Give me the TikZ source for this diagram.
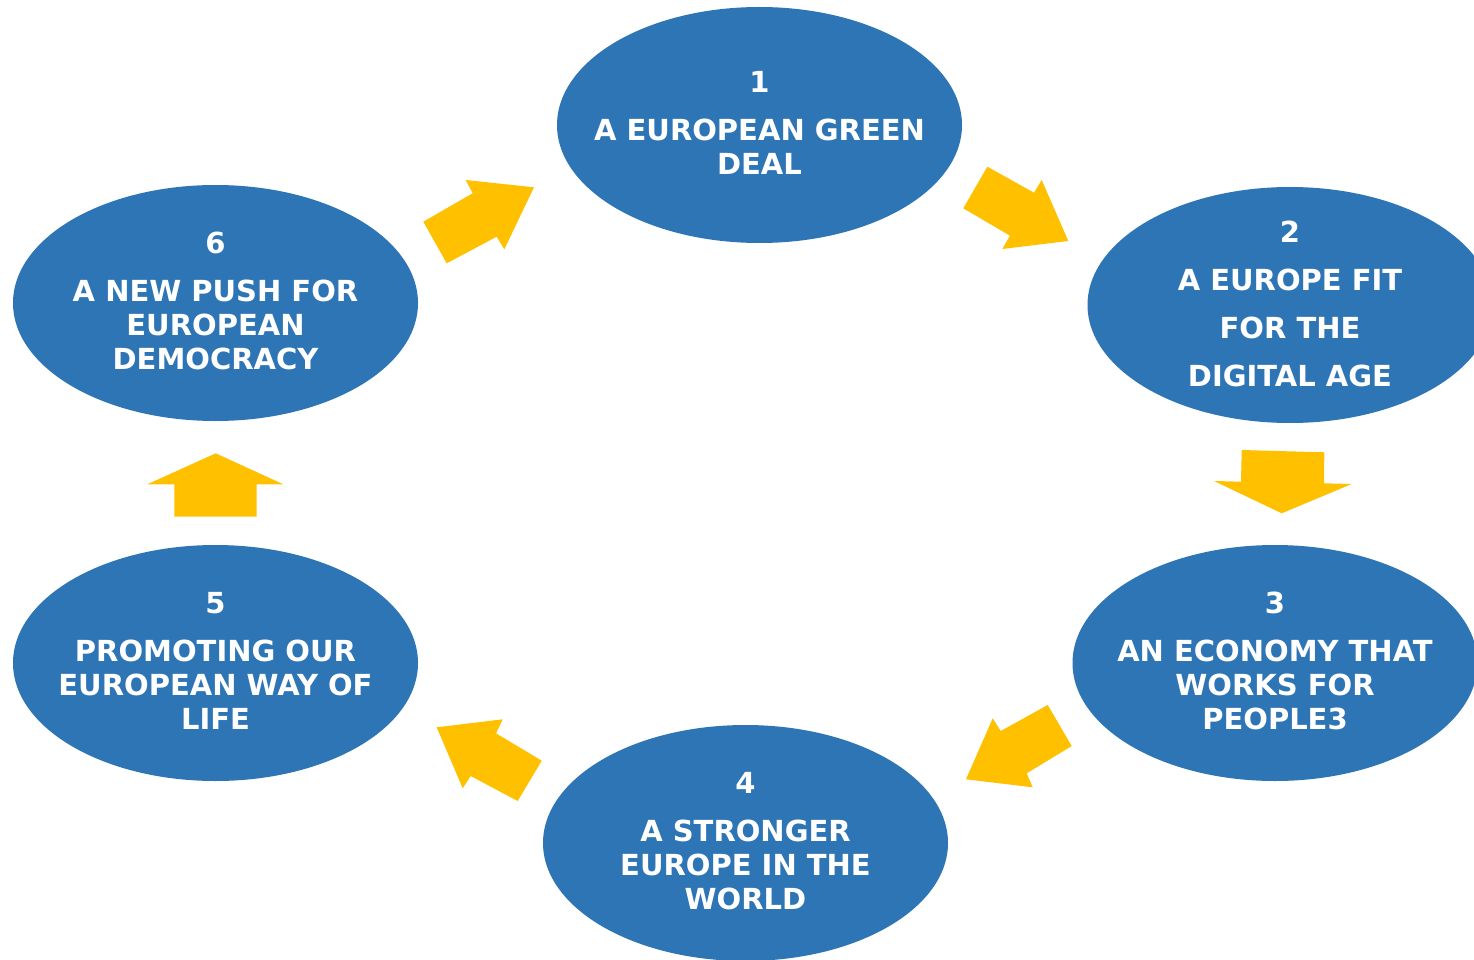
\documentclass[tikz,border=0pt]{standalone}
\usepackage{fontspec}
\setmainfont{DejaVu Sans}
\usetikzlibrary{shapes.geometric}
\definecolor{eublue}{RGB}{46,117,182}
\definecolor{euyellow}{RGB}{255,192,0}
\begin{document}
\begin{tikzpicture}[x=1pt,y=-1pt,
  blob/.style={ellipse,fill=eublue,draw=none,minimum width=405pt,minimum height=236pt,inner sep=0pt},
  lbl/.style={text=white,align=center,font=\bfseries\fontsize{29}{34}\selectfont,inner sep=0pt},
  lblwide/.style={text=white,align=center,font=\bfseries\fontsize{29}{48}\selectfont,inner sep=0pt},
  blockarrow/.style={fill=euyellow,draw=none}]
\useasboundingbox (0,0) rectangle (1474,960);
\clip (0,0) rectangle (1474,960);
\node[blob] (e1) at (759.5,125) {};
\node[blob] (e2) at (1290,305) {};
\node[blob] (e3) at (1275,663) {};
\node[blob] (e4) at (745.5,843) {};
\node[blob] (e5) at (215.5,663) {};
\node[blob] (e6) at (215.5,303) {};
\node[lbl] (t1) at ([yshift=2pt]e1.center) {1\\[14pt]A EUROPEAN GREEN\\DEAL};
\node[lblwide] (t2) at ([yshift=1pt]e2.center) {2\\A EUROPE FIT\\FOR THE\\DIGITAL AGE};
\node[lbl] (t3) at ([yshift=2pt]e3.center) {3\\[14pt]AN ECONOMY THAT\\WORKS FOR\\PEOPLE3};
\node[lbl] (t4) at ([yshift=2pt]e4.center) {4\\[14pt]A STRONGER\\EUROPE IN THE\\WORLD};
\node[lbl] (t5) at ([yshift=2pt]e5.center) {5\\[14pt]PROMOTING OUR\\EUROPEAN WAY OF\\LIFE};
\node[lbl] (t6) at ([yshift=2pt]e6.center) {6\\[14pt]A NEW PUSH FOR\\EUROPEAN\\DEMOCRACY};
% arrow 6 -> 1
\fill[blockarrow] (423.3,221.7) -- (472.7,193.3) -- (465.7,180) -- (534,187.3) -- (504.3,249.3) -- (496.7,236.7) -- (446.7,263.3) -- cycle;
% arrow 1 -> 2
\fill[blockarrow] (987.3,166.7) -- (1034,192.7) -- (1041.7,180) -- (1068.3,241) -- (1002.3,249) -- (1010,235.7) -- (963.3,208.3) -- cycle;
% arrow 2 -> 3
\fill[blockarrow] (1241.7,450) -- (1324.3,452.3) -- (1324,483.3) -- (1351.7,484) -- (1281.7,513.3) -- (1214,481) -- (1241,481.7) -- cycle;
% arrow 3 -> 4
\fill[blockarrow] (1047.7,705) -- (1071.7,746) -- (1026.7,773.3) -- (1032.7,787.3) -- (966,779.3) -- (992.7,718.3) -- (1000.7,731) -- cycle;
% arrow 4 -> 5
\fill[blockarrow] (436.7,727.3) -- (502.7,719.3) -- (496,733.3) -- (541.7,760.7) -- (517.7,801) -- (470.7,776) -- (462.7,788.3) -- cycle;
% arrow 5 -> 6
\fill[blockarrow] (215.7,453.3) -- (283.3,484.3) -- (256.7,484.3) -- (256.7,516.7) -- (174.3,516.7) -- (174.3,484.3) -- (147.3,484.3) -- cycle;
\end{tikzpicture}
\end{document}
